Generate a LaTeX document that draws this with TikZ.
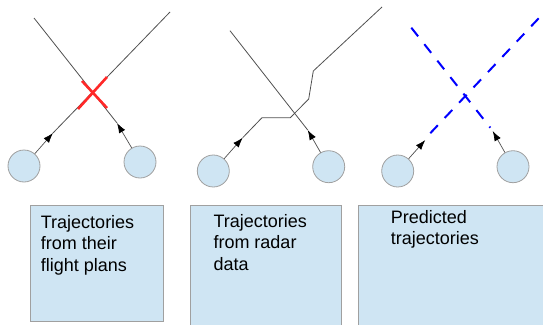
\documentclass[tikz,border=0pt]{standalone}
\usepackage{fontspec}
\setmainfont{Liberation Sans}
\usetikzlibrary{arrows.meta}
\definecolor{plane}{HTML}{CFE5F3}
\definecolor{edgegray}{HTML}{A0A0A0}
\definecolor{trajgray}{HTML}{505050}
\tikzset{
  plane/.style={circle, draw=edgegray, fill=plane, line width=0.8pt, minimum size=32pt, inner sep=0pt},
  panel/.style={draw=edgegray, fill=plane, line width=0.8pt},
  traj/.style={draw=trajgray, line width=0.8pt},
  conflict/.style={draw={rgb,255:red,255;green,40;blue,40}, line width=2.6pt},
  pred/.style={draw=blue, line width=2pt, dash pattern=on 11pt off 10pt},
  heading/.style={-{Latex[length=10pt,width=7pt,color=black]}, draw=trajgray, line width=0.7pt},
  caption/.style={anchor=north west, align=left, inner sep=0pt, font=\fontsize{18}{21.5}\selectfont}
}
\begin{document}
\begin{tikzpicture}[x=1pt,y=-1pt]
\useasboundingbox (0,0) rectangle (543,324);
% boxes
\path[panel] (30,205.7) rectangle (163.3,321);
\path[panel] (190,205.7) rectangle (341,330);
\path[panel] (358.3,205.7) rectangle (550,330);
\node[caption] (t1) at (40.7,215) {Trajectories\\from their\\flight plans};
\node[caption] (t2) at (213.3,214) {Trajectories\\from radar\\data};
\node[caption] (t3) at (390.7,210) {Predicted\\trajectories};

% panel 1
\node[plane] (p1a) at (24,166) {};
\node[plane] (p1b) at (140,162) {};
\coordinate (a1top) at (34,18);
\coordinate (b1top) at (170,12);
\coordinate (a1tip) at (117,123);
\coordinate (b1tip) at (53,133);
\path[traj] (a1tip) -- (a1top);
\path[traj] (b1tip) -- (b1top);
\draw[heading] (p1b) -- (a1tip);
\draw[heading] (p1a) -- (b1tip);
\coordinate (ra1) at (82,81);
\coordinate (ra2) at (107,108);
\coordinate (rb1) at (107,77);
\coordinate (rb2) at (78,109);
\path[conflict] (ra1) -- (ra2);
\path[conflict] (rb1) -- (rb2);

% panel 2
\node[plane] (p2a) at (213.3,171) {};
\node[plane] (p2b) at (328.7,166.7) {};
\coordinate (c1) at (262,117.7);
\coordinate (c2) at (290.3,117.7);
\coordinate (c3) at (308.7,99);
\coordinate (c4) at (313.3,71);
\coordinate (c5) at (382,7);
\coordinate (d1) at (230,30.7);
\coordinate (a2tip) at (242.7,137.7);
\coordinate (b2tip) at (307.7,130);
\path[traj] (a2tip) -- (c1) -- (c2) -- (c3) -- (c4) -- (c5);
\path[traj] (b2tip) -- (d1);
\draw[heading] (p2a) -- (a2tip);
\draw[heading] (p2b) -- (b2tip);

% panel 3
\node[plane] (p3a) at (397.7,171) {};
\node[plane] (p3b) at (513,166.7) {};
\coordinate (e1) at (411.3,27.7);
\coordinate (e2) at (490.3,127.7);
\coordinate (f1) at (538.7,18.3);
\coordinate (f2) at (427,136.7);
\coordinate (a3tip) at (425.3,140);
\coordinate (b3tip) at (492.7,131);
\path[pred] (e1) -- (e2);
\path[pred] (f1) -- (f2);
\draw[heading] (p3a) -- (a3tip);
\draw[heading] (p3b) -- (b3tip);
\end{tikzpicture}
\end{document}
